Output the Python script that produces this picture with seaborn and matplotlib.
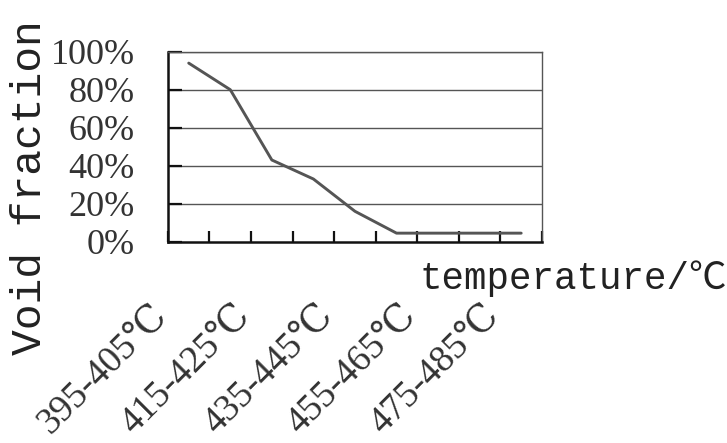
import numpy as np
import pandas as pd
import seaborn as sns
import matplotlib.pyplot as plt
import matplotlib.transforms as mtransforms

# temperature ranges (9 categories), void fraction in %
temp_ranges = ['395-405℃', '405-415℃', '415-425℃', '425-435℃', '435-445℃',
               '445-455℃', '455-465℃', '465-475℃', '475-485℃']
void_fraction = [94, 80, 43, 33, 16, 4.5, 4.5, 4.5, 4.5]
y_ticks = [0, 20, 40, 60, 80, 100]
y_ticklabels = ['0%', '20%', '40%', '60%', '80%', '100%']
shown_labels = temp_ranges[::2]

df = pd.DataFrame({'temp': temp_ranges, 'void': void_fraction})

sns.set_style('white')
serif = ['Liberation Serif', 'DejaVu Serif', 'Noto Sans CJK SC']
mono = ['Liberation Mono', 'DejaVu Sans Mono', 'Noto Sans CJK SC']

fig = plt.figure(figsize=(7.27, 4.43), dpi=100)
ax = fig.add_axes([0.231, 0.4544, 0.5145, 0.4289])

sns.lineplot(data=df, x='temp', y='void', ax=ax, color='#555555', linewidth=2.1, sort=False)

ax.set_xlim(-0.5, len(temp_ranges) - 0.5)
ax.set_ylim(0, 100)

# gridlines
ax.set_yticks(y_ticks)
ax.set_yticklabels(y_ticklabels, fontfamily=serif, fontsize=26, color='#333333')
for y in y_ticks[1:]:
    ax.axhline(y, color='#555555', linewidth=1.0, zorder=0)

ax.tick_params(axis='y', left=True, direction='in', length=10, width=1.6, color='#111111', pad=24)
for lbl in ax.get_yticklabels():
    lbl.set_horizontalalignment('right')

# x ticks at category boundaries, labels every other category
ax.set_xticks(np.arange(-0.5, len(temp_ranges), 1.0), minor=True)
ax.set_xticks(np.arange(0, len(temp_ranges), 2))
ax.set_xticklabels(shown_labels, fontfamily=serif, fontsize=27, color='#333333',
                   rotation=45, ha='right', va='top', rotation_mode='anchor')
ax.tick_params(axis='x', which='major', bottom=True, length=0, pad=40)
ax.tick_params(axis='x', which='minor', bottom=True, direction='in', length=8, width=1.6, color='#111111')
shift = mtransforms.ScaledTranslation(-0.40, 0, fig.dpi_scale_trans)
for lbl in ax.get_xticklabels():
    lbl.set_transform(lbl.get_transform() + shift)

for side in ['left', 'bottom']:
    ax.spines[side].set_color('#111111')
    ax.spines[side].set_linewidth(1.8)
for side in ['top', 'right']:
    ax.spines[side].set_color('#555555')
    ax.spines[side].set_linewidth(1.0)

ax.set_xlabel('temperature/℃', fontfamily=mono, fontsize=27, color='#222222')
ax.xaxis.set_label_coords(1.083, -0.10)
ax.set_ylabel('Void fraction', fontfamily=mono, fontsize=31, color='#222222')
ax.yaxis.set_label_coords(-0.315, 0.283)

fig.savefig('out.png', dpi=100)
